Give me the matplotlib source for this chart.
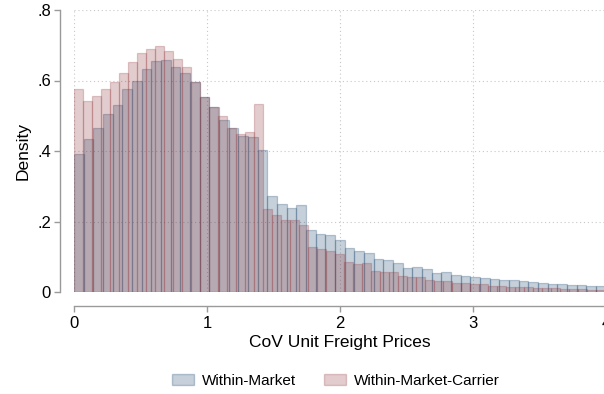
import numpy as np
import matplotlib
matplotlib.use('Agg')
import matplotlib.pyplot as plt
from matplotlib.patches import Patch

plt.rcParams['font.family'] = ['Liberation Sans', 'DejaVu Sans']

# Histogram densities (bins start at 0)
within_market = [0.391, 0.434, 0.464, 0.504, 0.530, 0.575, 0.599, 0.632, 0.655, 0.658,
                 0.639, 0.622, 0.595, 0.553, 0.526, 0.488, 0.464, 0.443, 0.439, 0.403,
                 0.272, 0.249, 0.237, 0.246, 0.176, 0.165, 0.161, 0.147, 0.124, 0.117,
                 0.112, 0.093, 0.090, 0.083, 0.069, 0.070, 0.064, 0.054, 0.057, 0.047,
                 0.045, 0.042, 0.039, 0.037, 0.034, 0.034, 0.030, 0.027, 0.025, 0.024,
                 0.022, 0.019, 0.019, 0.018, 0.017]
within_carrier = [0.577, 0.543, 0.557, 0.575, 0.595, 0.620, 0.652, 0.679, 0.689, 0.698,
                  0.683, 0.660, 0.639, 0.595, 0.553, 0.526, 0.498, 0.466, 0.449, 0.453,
                  0.534, 0.235, 0.218, 0.204, 0.204, 0.189, 0.128, 0.121, 0.117, 0.107,
                  0.084, 0.079, 0.081, 0.060, 0.057, 0.057, 0.046, 0.042, 0.042, 0.034,
                  0.032, 0.032, 0.026, 0.026, 0.022, 0.022, 0.017, 0.016, 0.015, 0.013,
                  0.013, 0.011, 0.011, 0.010, 0.009, 0.008, 0.008, 0.007, 0.006]
width_market = 0.0727
width_carrier = 0.0677

xticks = [0, 1, 2, 3, 4]
yticks = [0, 0.2, 0.4, 0.6, 0.8]
ytick_labels = ['0', '.2', '.4', '.6', '.8']

W, H = 604, 394
fig = plt.figure(figsize=(W / 100, H / 100), dpi=100)
ax = fig.add_axes([74 / W, (H - 292) / H, 532 / W, 282 / H])

navy = (26 / 255, 71 / 255, 111 / 255)
maroon = (144 / 255, 53 / 255, 59 / 255)
blue_face, blue_edge = navy + (0.25,), navy + (0.28,)
red_face, red_edge = maroon + (0.25,), maroon + (0.25,)

left_m = np.arange(len(within_market)) * width_market
left_c = np.arange(len(within_carrier)) * width_carrier
ax.bar(left_m, within_market, width=width_market, align='edge',
       facecolor=blue_face, edgecolor=blue_edge, linewidth=0.9, zorder=2)
ax.bar(left_c, within_carrier, width=width_carrier, align='edge',
       facecolor=red_face, edgecolor=red_edge, linewidth=0.9, zorder=3)

ax.set_xlim(0, 4)
ax.set_ylim(0, 0.8)
ax.set_xticks(xticks)
ax.set_yticks(yticks)
ax.set_yticklabels(ytick_labels)
ax.grid(True, color='#c8c8c8', linestyle=(0, (1, 2.5)), linewidth=0.8, zorder=1)
ax.set_axisbelow(True)

for side in ['top', 'right']:
    ax.spines[side].set_visible(False)
for side in ['left', 'bottom']:
    ax.spines[side].set_position(('outward', 10))
    ax.spines[side].set_color('#9a9a9a')
    ax.spines[side].set_linewidth(1.0)
ax.tick_params(colors='#9a9a9a', length=4.5, width=1.0, labelsize=12, labelcolor='black')
ax.tick_params(axis='y', pad=2)
ax.tick_params(axis='x', pad=3)

ax.set_xlabel('CoV Unit Freight Prices', fontsize=12.5, labelpad=3)
ax.set_ylabel('Density', fontsize=12.5, labelpad=5)

handles = [Patch(facecolor=blue_face, edgecolor=blue_edge, label='Within-Market'),
           Patch(facecolor=red_face, edgecolor=red_edge, label='Within-Market-Carrier')]
fig.legend(handles=handles, loc='center', bbox_to_anchor=(336 / W, 1 - 381 / H),
           ncol=2, frameon=False, fontsize=11, handlelength=1.45, handleheight=0.75,
           columnspacing=1.8, handletextpad=0.55)

fig.savefig('out.png', dpi=100)
